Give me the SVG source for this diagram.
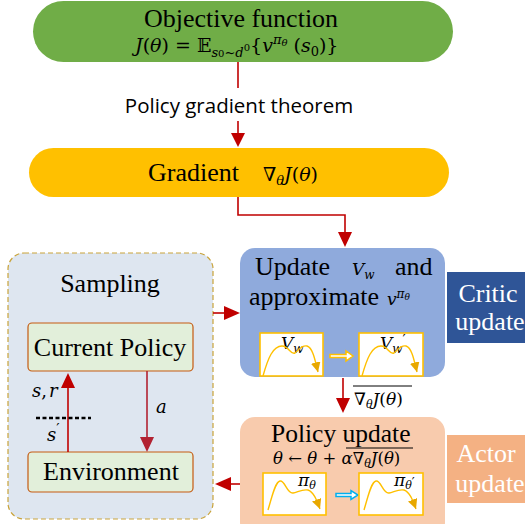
<svg xmlns="http://www.w3.org/2000/svg" width="525" height="524" viewBox="0 0 525 524">
<defs>
<marker id="ahc" viewBox="0 0 10 10" refX="10" refY="5" markerWidth="7" markerHeight="7" orient="auto">
<path d="M0,0 L10,5 L0,10 z" fill="#E8A800"/>
</marker>
</defs>
<style>
.serif{font-family:"Liberation Serif","Times New Roman",serif;fill:#000}
.math{font-family:"DejaVu Serif","Liberation Serif",serif;font-style:italic;fill:#000}
.sans{font-family:"Open Sans","Liberation Sans",sans-serif;fill:#000}
.white{fill:#fff}
.conn{stroke:#C00000;stroke-width:1.6;fill:none}
.ibox{fill:#fff;stroke:#FFC000;stroke-width:1.6}
.curve{fill:none;stroke:#FFC000;stroke-width:1.4}
.node{stroke:#C55A11;stroke-width:1.2;fill:#E2EFDA}
.head{fill:#C00000}
</style>

<g id="objective">
<rect x="33" y="1" width="420" height="61" rx="30.5" fill="#70AD47"/>
<text class="serif" x="241" y="27" font-size="26" text-anchor="middle">Objective function</text>
<text class="math" x="135" y="52" font-size="19"><tspan>J</tspan><tspan font-style="normal">(</tspan>θ<tspan font-style="normal">) = 𝔼</tspan><tspan font-size="13" dy="5">s<tspan font-size="10" font-style="normal">0</tspan>~d<tspan font-size="10" dy="-6" font-style="normal">0</tspan></tspan><tspan font-style="normal" dy="1">{</tspan>v<tspan font-size="13" dy="-8">π<tspan font-size="10" dy="2">θ</tspan></tspan><tspan font-style="normal" dy="6"> (</tspan>s<tspan font-size="13" font-style="normal" dy="4">0</tspan><tspan font-style="normal" dy="-4">)}</tspan></text>
</g>

<g id="gradient">
<rect x="29" y="148" width="420" height="49" rx="24.5" fill="#FFC000"/>
<text class="serif" x="148" y="181" font-size="26">Gradient</text>
<text class="math" x="263" y="181" font-size="19"><tspan font-style="normal">∇</tspan><tspan font-size="13" dy="4">θ</tspan><tspan dy="-4">J</tspan><tspan font-style="normal">(</tspan>θ<tspan font-style="normal">)</tspan></text>
</g>

<g id="sampling">
<rect x="8" y="253" width="205" height="266" rx="16" fill="#DEE6F0" stroke="#C9A33A" stroke-width="1.2" stroke-dasharray="5,3"/>
<text class="serif" x="110" y="292" font-size="26" text-anchor="middle">Sampling</text>
</g>

<g id="current-policy">
<rect class="node" x="28" y="323" width="165" height="48" rx="4"/>
<text class="serif" x="110" y="356" font-size="26" text-anchor="middle">Current Policy</text>
</g>

<g id="environment">
<rect class="node" x="28" y="452" width="165" height="40" rx="4"/>
<text class="serif" x="111" y="480" font-size="26" text-anchor="middle">Environment</text>
</g>

<g id="critic">
<rect x="240" y="248" width="205" height="129" rx="15" fill="#8FAADC"/>
<text class="serif" x="255" y="275" font-size="26">Update</text>
<text class="math" x="352" y="275" font-size="17">V<tspan font-size="12" dy="4">w</tspan></text>
<text class="serif" x="395" y="275" font-size="26">and</text>
<text class="serif" x="249" y="305" font-size="26">approximate</text>
<text class="math" x="387" y="305" font-size="17">v<tspan font-size="12" dy="-7">π<tspan font-size="9" dy="2">θ</tspan></tspan></text>
<rect class="ibox" x="260" y="333" width="63" height="43"/>
<text class="math" x="281" y="349" font-size="17">V<tspan font-size="12" dy="4">w</tspan></text>
<path class="curve" marker-end="url(#ahc)" d="M263,376 C268,358 273,346 282,346 C289,346 290,355 295,353 C299,350 301,345 307,346 C313,348 315,360 318,372"/>
<path d="M330,354.5 h16 v-3.5 l7,5 l-7,5 v-3.5 h-16 z" fill="#fff" stroke="#FFC000" stroke-width="1.5"/>
<rect class="ibox" x="359" y="333" width="64" height="43"/>
<text class="math" x="380" y="349" font-size="17">V<tspan font-size="12" dy="4">w</tspan><tspan font-size="14" font-style="normal" dy="-8">′</tspan></text>
<path class="curve" marker-end="url(#ahc)" d="M362,376 C367,358 372,346 381,346 C388,346 389,355 394,353 C398,350 400,345 406,346 C412,348 414,360 417,372"/>
</g>

<g id="critic-label">
<rect x="447" y="272" width="78" height="71" fill="#2F5597"/>
<text class="serif white" x="488" y="302" font-size="26" text-anchor="middle">Critic</text>
<text class="serif white" x="490" y="330" font-size="26" text-anchor="middle">update</text>
</g>

<g id="actor">
<rect x="240" y="417" width="205" height="120" rx="15" fill="#F8CBAD"/>
<text class="serif" x="271" y="442" font-size="25.5">Policy update</text>
<line x1="346" y1="448" x2="413" y2="448" stroke="#000" stroke-width="1"/>
<text class="math" x="273" y="464" font-size="16.5">θ<tspan font-style="normal"> ← </tspan>θ<tspan font-style="normal"> + </tspan>α<tspan font-style="normal">∇</tspan><tspan font-size="11" dy="3">θ</tspan><tspan dy="-3">J</tspan><tspan font-style="normal">(</tspan>θ<tspan font-style="normal">)</tspan></text>
<rect class="ibox" x="263" y="473" width="63" height="42"/>
<text class="math" x="298" y="486" font-size="17">π<tspan font-size="11" dy="3">θ</tspan></text>
<path class="curve" marker-end="url(#ahc)" d="M268,510 C272,497 275,482 280,481 C285,480 287,494 293,493 C298,492 302,489 308,490 C314,492 317,501 320,509"/>
<path d="M336,493.5 h15 v-3 l7,4.5 l-7,4.5 v-3 h-15 z" fill="#fff" stroke="#00B0F0" stroke-width="1.5"/>
<rect class="ibox" x="359" y="473" width="64" height="42"/>
<text class="math" x="394" y="486" font-size="17">π<tspan font-size="11" dy="3">θ<tspan font-size="13" font-style="normal" dy="-2">′</tspan></tspan></text>
<path class="curve" marker-end="url(#ahc)" d="M364,510 C368,497 371,482 376,481 C381,480 383,494 389,493 C394,492 398,489 404,490 C410,492 413,501 416,509"/>
</g>

<g id="actor-label">
<rect x="447" y="435" width="78" height="68" fill="#F4B183"/>
<text class="serif white" x="486" y="462" font-size="26" text-anchor="middle">Actor</text>
<text class="serif white" x="490" y="492" font-size="26" text-anchor="middle">update</text>
</g>

<g id="connectors">
<line class="conn" x1="238" y1="62" x2="238" y2="88"/>
<text class="sans" x="239" y="113" font-size="20.5" text-anchor="middle">Policy gradient theorem</text>
<line class="conn" x1="238" y1="121" x2="238" y2="135"/>
<path class="head" d="M231,133 L245,133 L238,147 z"/>
<polyline class="conn" points="238,197 238,215 345,215 345,233"/>
<path class="head" d="M338,232 L352,232 L345,247 z"/>
<line class="conn" x1="213" y1="313" x2="226" y2="313"/>
<path class="head" d="M224,306 L240,313 L224,320 z"/>
<line class="conn" x1="240" y1="484" x2="228" y2="484"/>
<path class="head" d="M231,477 L215,484 L231,491 z"/>
<line class="conn" x1="343" y1="378" x2="343" y2="400"/>
<path class="head" d="M336,398 L350,398 L343,413 z"/>
<line x1="353" y1="386" x2="412" y2="386" stroke="#000" stroke-width="1"/>
<text class="math" x="354" y="405" font-size="17"><tspan font-style="normal">∇</tspan><tspan font-size="11" dy="3">θ</tspan><tspan dy="-3">J</tspan><tspan font-style="normal">(</tspan>θ<tspan font-style="normal">)</tspan></text>
<line class="conn" x1="68" y1="452" x2="68" y2="386"/>
<path class="head" d="M61,388 L75,388 L68,373 z"/>
<line x1="147" y1="371" x2="147" y2="438" stroke="#B22232" stroke-width="1.6"/>
<path d="M140,437 L154,437 L147,452 z" fill="#B22232"/>
<text class="math" x="32" y="397" font-size="18">s<tspan font-style="normal">,</tspan><tspan dx="2">r</tspan></text>
<text class="math" x="156" y="413" font-size="18">a</text>
<text class="math" x="47" y="441" font-size="18">s<tspan font-size="15" font-style="normal" dy="-7">′</tspan></text>
<line x1="36" y1="418" x2="91" y2="418" stroke="#000" stroke-width="2.5" stroke-dasharray="4,2.5"/>
</g>
</svg>
